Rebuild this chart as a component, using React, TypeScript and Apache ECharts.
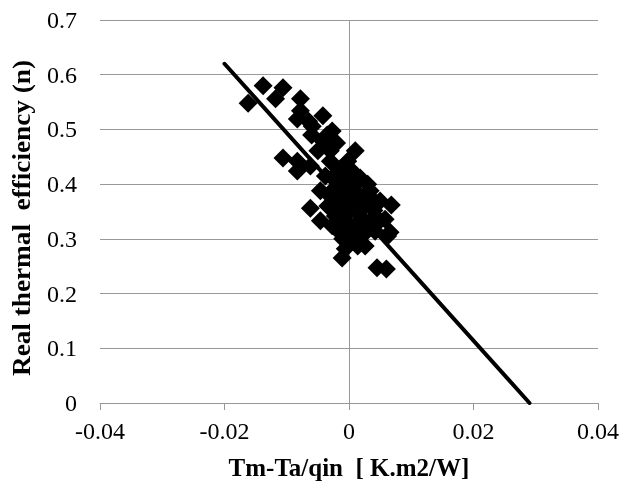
import React, { useEffect, useRef } from "react";
import * as echarts from "echarts";

const xTicks = [-0.04, -0.02, 0, 0.02, 0.04];
const yTicks = [0, 0.1, 0.2, 0.3, 0.4, 0.5, 0.6, 0.7];

const xTitle = "Tm-Ta/qin  [ K.m2/W]";
const yTitle = "Real thermal  efficiency (n)";

const measured: [number, number][] = [
  [-0.0162, 0.548], [-0.0138, 0.58], [-0.0106, 0.576], [-0.0118, 0.556],
  [-0.0078, 0.556], [-0.0078, 0.534], [-0.0083, 0.519], [-0.0042, 0.525],
  [-0.0059, 0.506], [-0.0027, 0.497], [-0.0042, 0.479], [-0.005, 0.461],
  [-0.003, 0.461], [-0.0106, 0.448], [-0.0083, 0.442], [-0.0083, 0.424],
  [-0.0062, 0.433], [-0.003, 0.442], [-0.0002, 0.442], [-0.0014, 0.428],
  [0.0018, 0.411], [-0.0038, 0.415], [-0.0022, 0.406], [-0.0006, 0.397],
  [0.001, 0.388], [0.0026, 0.378], [0.005, 0.369], [-0.0046, 0.388],
  [-0.003, 0.378], [-0.0014, 0.369], [0.0002, 0.36], [0.0018, 0.351],
  [0.0034, 0.36], [-0.0062, 0.356], [-0.0046, 0.333], [-0.0022, 0.342],
  [-0.0006, 0.333], [0.001, 0.324], [0.0026, 0.329], [0.0042, 0.342],
  [0.0058, 0.336], [-0.0014, 0.311], [0.0002, 0.3], [0.0021, 0.305],
  [0.0042, 0.314], [0.0062, 0.305], [-0.0006, 0.282], [0.0014, 0.287],
  [-0.0011, 0.265], [0.0045, 0.247], [0.006, 0.245], [0.0005, 0.424],
  [-0.0006, 0.415], [0.001, 0.406], [0.0034, 0.388], [-0.0018, 0.388],
  [-0.0034, 0.36], [-0.0018, 0.351], [-0.0002, 0.347], [0.0014, 0.369],
  [0.0026, 0.287], [-0.0027, 0.324], [0.0005, 0.32], [0.001, 0.461],
  [-0.0065, 0.515], [-0.0035, 0.49], [-0.006, 0.49], [-0.002, 0.475],
  [0.003, 0.4], [0.004, 0.352], [0.003, 0.318], [0.0045, 0.328],
  [-0.001, 0.3], [0.002, 0.338], [0.0, 0.38], [-0.002, 0.42],
  [0.0035, 0.375], [0.0068, 0.362], [0.0066, 0.312], [-0.0025, 0.39],
];

const fitLine: [number, number][] = [
  [-0.02, 0.62],
  [0.029, 0.0],
];

const FONT = "Liberation Serif";

export default function App() {
  const ref = useRef<HTMLDivElement>(null);
  useEffect(() => {
    if (!ref.current) return;
    const chart = echarts.init(ref.current, undefined, { renderer: "svg" });
    chart.setOption({
      animation: false,
      grid: { left: 100, right: 27, top: 20, bottom: 82 },
      graphic: [
        {
          type: "text",
          x: 22,
          y: 218,
          rotation: Math.PI / 2,
          scaleX: 1.09,
          style: {
            text: yTitle,
            fontFamily: FONT,
            fontSize: 25,
            fontWeight: "bold",
            fill: "#000",
            align: "center",
            verticalAlign: "middle",
          },
        },
      ],
      xAxis: {
        type: "value",
        min: xTicks[0],
        max: xTicks[xTicks.length - 1],
        interval: 0.02,
        name: xTitle,
        nameLocation: "middle",
        nameGap: 52,
        nameTextStyle: { fontFamily: FONT, fontSize: 25, fontWeight: "bold", color: "#000" },
        axisLine: { show: true, onZero: false, lineStyle: { color: "#999", width: 1 } },
        axisTick: { show: true, length: 7, lineStyle: { color: "#999" } },
        splitLine: { show: false },
        axisLabel: { fontSize: 24, fontFamily: FONT, color: "#000", margin: 16 },
      },
      yAxis: {
        type: "value",
        min: yTicks[0],
        max: yTicks[yTicks.length - 1],
        interval: 0.1,
        axisLine: { show: false },
        axisTick: { show: false },
        splitLine: { show: true, lineStyle: { color: "#999", width: 1 } },
        axisLabel: { fontSize: 24, fontFamily: FONT, color: "#000", margin: 23 },
      },
      series: [
        {
          type: "scatter",
          data: measured,
          symbol: "diamond",
          symbolSize: 19,
          itemStyle: { color: "#000", opacity: 1 },
          z: 2,
          markLine: {
            silent: true,
            symbol: ["none", "none"],
            label: { show: false },
            lineStyle: { color: "#999", width: 1, type: "solid" },
            data: [{ xAxis: 0 }],
            z: 1,
          },
        },
        {
          type: "line",
          data: fitLine,
          showSymbol: false,
          symbol: "none",
          lineStyle: { color: "#000", width: 4, cap: "round" },
          z: 3,
        },
      ],
    });
    return () => chart.dispose();
  }, []);
  return (
    <div
      ref={ref}
      style={{ position: "fixed", left: 0, top: 0, width: 625, height: 485 }}
    />
  );
}
